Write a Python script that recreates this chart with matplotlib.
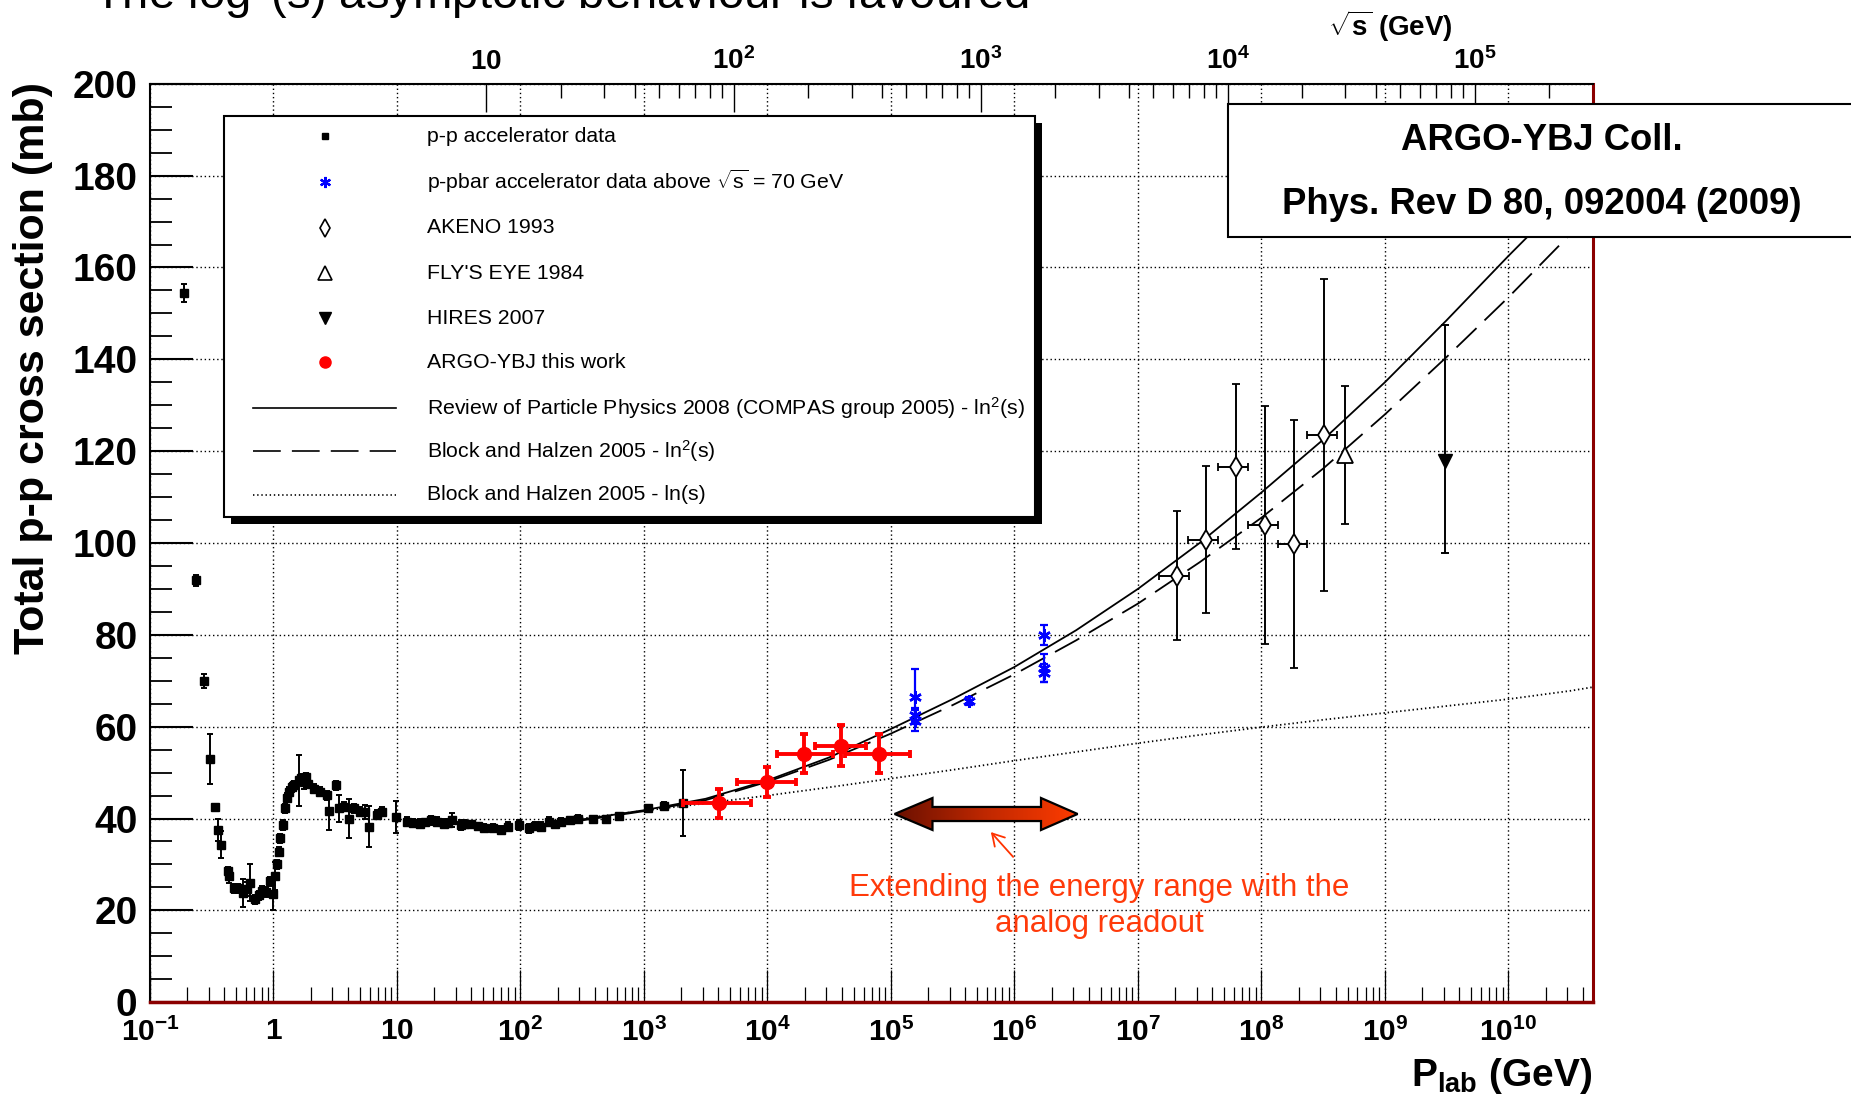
import numpy as np
import matplotlib
matplotlib.use('Agg')
import matplotlib.pyplot as plt
from matplotlib.patches import Rectangle, Polygon, FancyArrowPatch
from matplotlib.lines import Line2D
from matplotlib.colors import LinearSegmentedColormap
from matplotlib.ticker import MultipleLocator, LogLocator, NullFormatter, FixedLocator

plt.rcParams['font.family'] = ['Liberation Sans', 'DejaVu Sans']
plt.rcParams['mathtext.fontset'] = 'custom'
plt.rcParams['mathtext.rm'] = 'Liberation Sans'
plt.rcParams['mathtext.it'] = 'Liberation Sans:italic'
plt.rcParams['mathtext.bf'] = 'Liberation Sans:bold'
plt.rcParams['lines.scale_dashes'] = False

W, H = 1851, 1106
M_P = 0.938

# p-p accelerator data: lab momentum (GeV), total cross section (mb), error (mb)
pp_plab = [0.19, 0.236, 0.274, 0.307, 0.336, 0.356, 0.379, 0.425, 0.44, 0.481,
           0.52, 0.571, 0.61, 0.648, 0.711, 0.76, 0.805, 0.87, 0.942, 1.0,
           1.03, 1.067, 1.1, 1.135, 1.19, 1.245, 1.29, 1.325, 1.4, 1.455,
           1.6, 1.68, 1.75, 1.85, 1.92, 2.11, 2.39, 2.71, 2.8, 3.23,
           3.37, 3.7, 4.07, 4.47, 5.06, 5.56, 5.9, 6.9, 7.58, 9.73,
           12.1, 13.5, 15.5, 17.0, 18.7, 21.2, 24.0, 26.0, 28.0, 32.7,
           35.0, 39.5, 45.0, 50.6, 60.0, 69.0, 80.0, 97.0, 117.0, 130.0,
           146.0, 171.0, 190.0, 212.0, 250.0, 290.0, 384.0, 492.0, 630.0, 1072.0,
           1462.0, 2063.0]
pp_sigma = [154.5, 91.9, 69.9, 53.0, 42.4, 37.5, 34.3, 28.5, 27.5, 24.8,
            24.8, 23.8, 24.6, 26.0, 22.4, 23.3, 24.2, 24.0, 26.3, 23.5,
            27.5, 30.0, 32.8, 35.7, 38.6, 42.2, 44.5, 45.8, 46.8, 47.2,
            48.3, 48.8, 48.0, 49.0, 47.6, 46.5, 45.8, 45.1, 41.6, 47.2,
            42.2, 42.6, 40.0, 42.2, 41.5, 41.5, 38.2, 40.8, 41.5, 40.4,
            39.3, 39.0, 38.9, 39.2, 39.6, 39.3, 38.9, 39.1, 39.6, 38.6,
            38.8, 38.7, 38.3, 37.9, 37.9, 37.5, 38.2, 38.6, 37.9, 38.4,
            38.2, 39.3, 38.7, 39.3, 39.6, 40.0, 40.0, 40.0, 40.6, 42.2,
            42.7, 43.3]
pp_err = [2.0, 1.2, 1.5, 5.5, 0.8, 2.5, 3.0, 1.0, 1.5, 1.0,
          1.0, 3.0, 1.5, 4.0, 1.0, 1.0, 1.0, 1.0, 1.0, 3.5,
          3.0, 1.0, 1.0, 1.0, 1.0, 1.0, 1.0, 1.0, 1.0, 1.0,
          5.5, 1.0, 1.5, 1.0, 1.0, 1.0, 1.0, 1.0, 4.0, 1.0,
          3.0, 1.0, 4.3, 1.0, 1.0, 1.5, 4.5, 1.0, 1.0, 3.5,
          1.0, 0.8, 1.0, 0.8, 1.0, 1.0, 1.0, 0.8, 1.5, 1.0,
          0.8, 0.5, 0.8, 0.8, 0.8, 0.8, 1.0, 1.0, 1.0, 0.8,
          1.0, 1.0, 0.8, 0.8, 0.8, 0.8, 0.5, 0.5, 0.3, 0.8,
          0.8, 7.2]

# p-pbar collider data above sqrt(s) = 70 GeV
ppbar_plab = [1.57e5, 1.57e5, 1.57e5, 4.29e5, 1.74e6, 1.74e6, 1.74e6]
ppbar_sigma = [66.5, 62.6, 61.3, 65.6, 80.0, 72.8, 71.7]
ppbar_err = [6.0, 1.5, 2.3, 0.8, 2.2, 3.1, 2.0]

# AKENO 1993
akeno_plab = [2.08e7, 3.59e7, 6.25e7, 1.07e8, 1.83e8, 3.21e8]
akeno_plab_lo = [1.47e7, 2.55e7, 4.49e7, 7.82e7, 1.36e8, 2.35e8]
akeno_plab_hi = [2.60e7, 4.49e7, 7.82e7, 1.36e8, 2.35e8, 4.09e8]
akeno_sigma = [92.9, 100.7, 116.6, 103.9, 99.8, 123.5]
akeno_err = [14.0, 16.0, 18.0, 26.0, 27.0, 34.0]

# Fly's Eye 1984
fly_plab = [4.78e8]
fly_sigma = [119.2]
fly_err = [15.0]

# HiRes 2007
hires_plab = [3.04e9]
hires_sigma = [117.8]
hires_err_lo = [20.0]
hires_err_hi = [29.7]

# ARGO-YBJ
argo_plab = [4.02e3, 1.00e4, 1.99e4, 3.94e4, 8.02e4]
argo_plab_lo = [2.09e3, 5.70e3, 1.19e4, 2.42e4, 4.22e4]
argo_plab_hi = [7.31e3, 1.71e4, 3.37e4, 6.30e4, 1.44e5]
argo_sigma = [43.3, 47.9, 54.1, 55.9, 54.1]
argo_err = [3.1, 3.3, 4.2, 4.4, 4.2]

# fits
fit_plab = [3.16e2, 1e3, 3.16e3, 1e4, 3.16e4, 1e5, 3.16e5, 1e6, 3.16e6, 1e7,
            3.16e7, 1e8, 3.16e8, 1e9, 3.16e9, 1e10, 3.16e10, 4.8e10]
compas_sigma = [39.8, 41.8, 44.3, 48.3, 53.3, 59.5, 66.0, 73.0, 81.0, 90.0,
                100.0, 111.0, 122.5, 135.0, 148.5, 162.5, 176.0, 182.0]
bh_ln2_sigma = [39.6, 41.6, 44.0, 48.0, 52.8, 58.5, 64.7, 71.4, 78.8, 86.8,
                95.8, 105.5, 116.2, 128.0, 140.5, 153.5, 167.2, 172.5]
bh_ln_sigma = [40.0, 41.7, 43.3, 45.0, 46.8, 48.7, 50.6, 52.6, 54.5, 56.4,
               58.2, 59.9, 61.5, 63.0, 64.5, 66.0, 67.8, 68.6]

x_ticks = [1e-1, 1, 10, 1e2, 1e3, 1e4, 1e5, 1e6, 1e7, 1e8, 1e9, 1e10]
x_ticklabels = [r'$\mathbf{10^{-1}}$', r'$\mathbf{1}$', r'$\mathbf{10}$'] + \
               [r'$\mathbf{10^{%d}}$' % n for n in range(2, 11)]
y_ticks = [0, 20, 40, 60, 80, 100, 120, 140, 160, 180, 200]
sqrts_major = [10, 1e2, 1e3, 1e4, 1e5]
sqrts_labels = [r'$\mathbf{10}$', r'$\mathbf{10^{2}}$', r'$\mathbf{10^{3}}$',
                r'$\mathbf{10^{4}}$', r'$\mathbf{10^{5}}$']


def fx(x):
    return x / W


def fy(y):
    return 1 - y / H


def plab_from_sqrts(rs):
    rs = np.asarray(rs, dtype=float)
    e = (rs ** 2 - 2 * M_P ** 2) / (2 * M_P)
    return np.sqrt(e ** 2 - M_P ** 2)


fig = plt.figure(figsize=(W / 100, H / 100), dpi=100)
ax = fig.add_axes([fx(150), fy(1002.2), 1442.5 / W, 918.4 / H])
ax.set_xscale('log')
ax.set_xlim(0.1, 4.8e10)
ax.set_ylim(0, 200)

dot = (0, (1, 2))
ax.grid(which='major', color='black', linestyle=dot, linewidth=1.0, zorder=1)

ax.plot(fit_plab, compas_sigma, color='black', lw=1.3, zorder=3)
ax.plot(fit_plab, bh_ln2_sigma, color='black', lw=1.3, linestyle=(0, (20, 8)), zorder=3)
ax.plot(fit_plab, bh_ln_sigma, color='black', lw=1.3, linestyle=dot, zorder=3)

ax.errorbar(pp_plab, pp_sigma, yerr=pp_err, fmt='s', ms=5.5, color='black',
            elinewidth=1.4, capsize=2.5, capthick=1.4, zorder=4)
ax.errorbar(ppbar_plab, ppbar_sigma, yerr=ppbar_err, fmt='none', ecolor='#0000ff',
            elinewidth=1.6, capsize=2.8, capthick=1.6, zorder=4)
ax.plot(ppbar_plab, ppbar_sigma, linestyle='none', marker=(6, 2, 0), ms=9,
        mec='#0000ff', mew=1.8, zorder=5)

akeno_xerr = [np.array(akeno_plab) - np.array(akeno_plab_lo),
              np.array(akeno_plab_hi) - np.array(akeno_plab)]
ax.errorbar(akeno_plab, akeno_sigma, xerr=akeno_xerr, yerr=akeno_err, fmt='d', ms=10,
            mfc='white', mec='black', mew=1.3, ecolor='black', elinewidth=1.4,
            capsize=3, capthick=1.4, zorder=4)
ax.errorbar(fly_plab, fly_sigma, yerr=fly_err, fmt='^', ms=11, mfc='white', mec='black',
            mew=1.3, ecolor='black', elinewidth=1.4, capsize=3, capthick=1.4, zorder=4)
ax.errorbar(hires_plab, hires_sigma, yerr=[hires_err_lo, hires_err_hi], fmt='v', ms=10,
            color='black', elinewidth=1.4, capsize=3, capthick=1.4, zorder=4)

argo_xerr = [np.array(argo_plab) - np.array(argo_plab_lo),
             np.array(argo_plab_hi) - np.array(argo_plab)]
ax.errorbar(argo_plab, argo_sigma, xerr=argo_xerr, yerr=argo_err, fmt='o', ms=10,
            color='#ff0000', elinewidth=2.8, capsize=2.8, capthick=2.8, zorder=6)

# axes, ticks and labels
ax.xaxis.set_major_locator(FixedLocator(x_ticks))
ax.set_xticklabels(x_ticklabels, fontsize=21.5)
ax.xaxis.set_minor_locator(LogLocator(base=10, subs=np.arange(2, 10), numticks=100))
ax.xaxis.set_minor_formatter(NullFormatter())
ax.set_yticks(y_ticks)
ax.set_yticklabels([str(v) for v in y_ticks], fontsize=28, fontweight='bold')
ax.yaxis.set_minor_locator(MultipleLocator(5))
ax.tick_params(axis='y', which='major', direction='in', length=31, width=1.5, pad=9)
ax.tick_params(axis='y', which='minor', direction='in', length=16, width=1.3)
ax.tick_params(axis='x', which='major', direction='in', length=23, width=0.9, pad=11)
ax.tick_params(axis='x', which='minor', direction='in', length=11, width=0.9)
ax.tick_params(top=False, right=False, which='both')

ax.spines['left'].set_linewidth(1.5)
ax.spines['top'].set_linewidth(1.5)
ax.spines['right'].set_color('#8b0000')
ax.spines['right'].set_linewidth(2.2)
ax.spines['bottom'].set_color('#8b0000')
ax.spines['bottom'].set_linewidth(2.5)

# sqrt(s) axis on top
top = ax.twiny()
top.set_xscale('log')
top.set_xlim(ax.get_xlim())
top.set_xticks(plab_from_sqrts(sqrts_major))
top.set_xticklabels(sqrts_labels, fontsize=20)
sqrts_minor = [k * 10.0 ** n for n in range(1, 5) for k in range(2, 10)] + [2e5]
top.xaxis.set_minor_locator(FixedLocator(plab_from_sqrts(sqrts_minor)))
top.xaxis.set_minor_formatter(NullFormatter())
top.tick_params(axis='x', which='major', direction='in', length=20, width=1.0, pad=6)
top.tick_params(axis='x', which='minor', direction='in', length=10, width=1.0)
for sp in top.spines.values():
    sp.set_visible(False)

fig.text(fx(1390), fy(26), r'$\sqrt{\mathbf{s}}$ (GeV)', ha='center', va='center',
         fontsize=20, fontweight='bold')
fig.text(fx(1592.5), fy(1076), r'$\mathbf{P_{lab}}$ (GeV)', ha='right', va='center',
         fontsize=28, fontweight='bold')
fig.text(fx(33), fy(367.7), 'Total p-p cross section (mb)', rotation=90, ha='center',
         va='center', fontsize=31, fontweight='bold')
fig.text(fx(93), fy(9.3), 'The log$^{2}$(s) asymptotic behaviour is favoured',
         ha='left', va='baseline', fontsize=34)

# legend box with shadow
lx0, ly0, lx1, ly1 = 224.4, 116.0, 1034.7, 516.7
fig.add_artist(Rectangle((fx(lx0 + 7), fy(ly1 + 7)), (lx1 - lx0) / W, (ly1 - ly0) / H,
                         transform=fig.transFigure, facecolor='black', edgecolor='none', zorder=10))
fig.add_artist(Rectangle((fx(lx0), fy(ly1)), (lx1 - lx0) / W, (ly1 - ly0) / H,
                         transform=fig.transFigure, facecolor='white', edgecolor='black',
                         lw=1.5, zorder=11))

legend_rows = [136.0, 181.7, 227.7, 273.3, 318.3, 362.4, 408.3, 450.7, 495.0]
legend_texts = ['p-p accelerator data',
                r'p-pbar accelerator data above $\sqrt{\mathrm{s}}$ = 70 GeV',
                'AKENO 1993', "FLY'S EYE 1984", 'HIRES 2007', 'ARGO-YBJ this work',
                'Review of Particle Physics 2008 (COMPAS group 2005) - ln$^{2}$(s)',
                'Block and Halzen 2005 - ln$^{2}$(s)',
                'Block and Halzen 2005 - ln(s)']
legend_markers = [dict(marker='s', ms=5, color='black'),
                  dict(marker=(6, 2, 0), ms=8, mec='#0000ff', mew=1.6),
                  dict(marker='d', ms=9, mfc='white', mec='black', mew=1.2),
                  dict(marker='^', ms=10, mfc='white', mec='black', mew=1.2),
                  dict(marker='v', ms=9, color='black'),
                  dict(marker='o', ms=8, color='#ff0000')]
legend_lines = ['-', (0, (20, 8)), dot]
mx = 324.7
for i, y in enumerate(legend_rows):
    if i < 6:
        fig.add_artist(Line2D([fx(mx)], [fy(y)], linestyle='none', transform=fig.transFigure,
                              zorder=12, **legend_markers[i]))
    else:
        fig.add_artist(Line2D([fx(252.6), fx(396.2)], [fy(y), fy(y)], color='black', lw=1.2,
                              linestyle=legend_lines[i - 6], transform=fig.transFigure, zorder=12))
    fig.text(fx(426.6), fy(y), legend_texts[i], ha='left', va='center', fontsize=15.3, zorder=12)

# publication box
fig.add_artist(Rectangle((fx(1228.4), fy(236.7)), (1875 - 1228.4) / W, (236.7 - 104) / H,
                         transform=fig.transFigure, facecolor='white', edgecolor='black',
                         lw=1.5, zorder=11, clip_on=False))
fig.text(fx(1542), fy(140), 'ARGO-YBJ Coll.', ha='center', va='center', fontsize=26.3,
         fontweight='bold', zorder=12)
fig.text(fx(1542), fy(205), 'Phys. Rev D 80, 092004 (2009)', ha='center', va='center',
         fontsize=26.3, fontweight='bold', zorder=12)

# double arrow with colour gradient
aax = fig.add_axes([fx(894.6), fy(830), (1077.6 - 894.6) / W, 32 / H], zorder=8)
aax.set_xlim(0, 1)
aax.set_ylim(-1, 1)
aax.axis('off')
verts = [(0, 0), (0.207, 1), (0.207, 0.44), (0.8, 0.44), (0.8, 1), (1, 0),
         (0.8, -1), (0.8, -0.44), (0.207, -0.44), (0.207, -1)]
shape = Polygon(verts, closed=True, facecolor='none', edgecolor='black', lw=1.6,
                clip_on=False, zorder=3)
aax.add_patch(shape)
grad = LinearSegmentedColormap.from_list('arrow', ['#6a1000', '#c02800', '#ff3c00'])
im = aax.imshow(np.linspace(0, 1, 256).reshape(1, -1), cmap=grad, extent=[0, 1, -1, 1],
                aspect='auto', interpolation='bilinear', zorder=2)
im.set_clip_path(shape)

fig.add_artist(FancyArrowPatch((fx(1015), fy(859)), (fx(989), fy(830)),
                               transform=fig.transFigure, arrowstyle='->,head_length=0.6,head_width=0.35',
                               mutation_scale=14, color='#ff3300', lw=1.3, zorder=9))
fig.text(fx(1099), fy(906), 'Extending the energy range with the\nanalog readout',
         ha='center', va='center', color='#ff3a0a', fontsize=22.5, linespacing=1.3, zorder=9)

fig.savefig('out.png', dpi=100)
